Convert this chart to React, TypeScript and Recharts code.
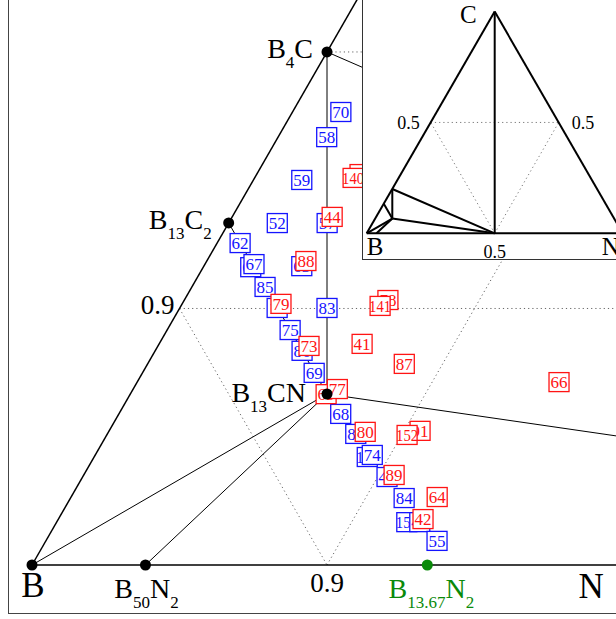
import React from 'react';
import { ScatterChart, Scatter, XAxis, YAxis, ReferenceLine } from 'recharts';

const SERIF = '"Liberation Serif", "Times New Roman", serif';
const H = Math.sqrt(3) / 2;
const BLUE = '#1414ff';
const RED = '#ff1414';
const GREEN = '#0a8a0a';

// compositions as (n, c) = fractions of N and C, B is the rest
const corners = [
  { name: 'B', n: 0, c: 0 },
  { name: 'C', n: 0, c: 1 },
  { name: 'N', n: 1, c: 0 },
  { name: 'BN', n: 0.5, c: 0 },
];

const phases = [
  { name: 'B', n: 0, c: 0 },
  { name: 'B50N2', n: 2 / 52, c: 0 },
  { name: 'B13C2', n: 0, c: 2 / 15 },
  { name: 'B4C', n: 0, c: 0.2 },
  { name: 'B13CN', n: 1 / 15, c: 1 / 15 },
];

const greenPhase = [{ name: 'B13.67N2', n: 0.134, c: 0 }];

const edges = [['B', 'C'], ['C', 'N'], ['B', 'N']];

const tieLines = [
  ['B4C', 'B13CN'],
  ['B4C', 'BN'],
  ['B13CN', 'BN'],
  ['B', 'B13CN'],
  ['B50N2', 'B13CN'],
  ['B13C2', 'B13CN'],
  ['C', 'BN'],
];

// dotted grid lines, [[n, c], [n, c]]
const mainGrid = [
  [[0, 0.1], [0.9, 0.1]],
  [[0, 0.2], [0.8, 0.2]],
  [[0, 0.1], [0.1, 0]],
  [[0.1, 0], [0.1, 0.9]],
];
const insetGrid = [
  [[0, 0.5], [0.5, 0.5]],
  [[0.5, 0], [0, 0.5]],
  [[0.5, 0], [0.5, 0.5]],
];

const mainTicks = [
  { text: '0.9', n: 0, c: 0.1, pos: 'left' },
  { text: '0.9', n: 0.1, c: 0, pos: 'below' },
  { text: 'N', n: 0.1895, c: 0, pos: 'corner' },
];
const insetTicks = [
  { text: '0.5', n: 0, c: 0.5, pos: 'left' },
  { text: '0.5', n: 0.5, c: 0.5, pos: 'right' },
  { text: '0.5', n: 0.5, c: 0, pos: 'below' },
  { text: 'B', n: 0, c: 0, pos: 'cornerB' },
  { text: 'C', n: 0, c: 1, pos: 'cornerC' },
  { text: 'N', n: 1, c: 0, pos: 'cornerN' },
];

// numbered sample boxes (drawn in this order)
const blueSamples = [
  { id: '70', n: 0.0164, c: 0.1766 },
  { id: '58', n: 0.0165, c: 0.1668 },
  { id: '59', n: 0.0164, c: 0.1501 },
  { id: '52', n: 0.0165, c: 0.1333 },
  { id: '57', n: 0.0334, c: 0.1333 },
  { id: '62', n: 0.0078, c: 0.1255 },
  { id: '61', n: 0.0161, c: 0.1161 },
  { id: '67', n: 0.0166, c: 0.1173 },
  { id: '63', n: 0.0332, c: 0.1165 },
  { id: '85', n: 0.0248, c: 0.1084 },
  { id: '18', n: 0.033, c: 0.1002 },
  { id: '83', n: 0.0499, c: 0.1002 },
  { id: '75', n: 0.0417, c: 0.0916 },
  { id: '86', n: 0.0498, c: 0.0835 },
  { id: '69', n: 0.0582, c: 0.0749 },
  { id: '68', n: 0.0752, c: 0.0589 },
  { id: '81', n: 0.0842, c: 0.0511 },
  { id: '157', n: 0.0926, c: 0.0421 },
  { id: '74', n: 0.0939, c: 0.0429 },
  { id: '47', n: 0.1032, c: 0.0343 },
  { id: '84', n: 0.1131, c: 0.0261 },
  { id: '153', n: 0.1187, c: 0.0167 },
  { id: '43', n: 0.1231, c: 0.0167 },
  { id: '55', n: 0.1326, c: 0.0094 },
];

const redSamples = [
  { id: '44', n: 0.0339, c: 0.1357 },
  { id: '88', n: 0.0336, c: 0.1185 },
  { id: '79', n: 0.0335, c: 0.1018 },
  { id: '73', n: 0.0512, c: 0.0854 },
  { id: '20', n: 0.035, c: 0.1524 },
  { id: '140', n: 0.0334, c: 0.1509 },
  { id: '78', n: 0.069, c: 0.1033 },
  { id: '141', n: 0.0675, c: 0.101 },
  { id: '41', n: 0.0688, c: 0.0862 },
  { id: '87', n: 0.087, c: 0.0784 },
  { id: '66', n: 0.143, c: 0.0713 },
  { id: '65', n: 0.0664, c: 0.0666 },
  { id: '77', n: 0.0692, c: 0.0686 },
  { id: '80', n: 0.087, c: 0.0519 },
  { id: '91', n: 0.1054, c: 0.0523 },
  { id: '152', n: 0.1018, c: 0.0507 },
  { id: '89', n: 0.1052, c: 0.0351 },
  { id: '64', n: 0.1241, c: 0.0265 },
  { id: '42', n: 0.1236, c: 0.0179 },
];

const xy = (n: number, c: number) => ({ x: n + c / 2, y: c * H });
const withXY = (arr: any[]) => arr.map((d) => ({ ...d, ...xy(d.n, d.c) }));

const lookup: Record<string, { n: number; c: number }> = {};
[...corners, ...phases].forEach((p) => (lookup[p.name] = p));

const phaseLabel: Record<string, any> = {
  B: { dx: 1, dy: 32, anchor: 'middle', size: 35 },
  B50N2: { dx: 1, dy: 33, anchor: 'middle', size: 28 },
  B13C2: { dx: -17, dy: 6, anchor: 'end', size: 28 },
  B4C: { dx: -14, dy: 6, anchor: 'end', size: 28 },
  B13CN: { dx: -21, dy: 8, anchor: 'end', size: 28 },
  'B13.67N2': { dx: 4, dy: 33, anchor: 'middle', size: 28 },
};

const tickStyle: Record<string, any> = {
  left: { dx: -5, dy: 6, anchor: 'end', size: 27 },
  below: { dx: 0, dy: 27, anchor: 'middle', size: 27 },
  corner: { dx: 0, dy: 33, anchor: 'middle', size: 35 },
};
const insetTickStyle: Record<string, any> = {
  left: { dx: -11, dy: 7, anchor: 'end', size: 18 },
  right: { dx: 13, dy: 7, anchor: 'start', size: 18 },
  below: { dx: 0, dy: 25, anchor: 'middle', size: 18 },
  cornerB: { dx: 0, dy: 22, anchor: 'start', size: 25 },
  cornerC: { dx: -18, dy: 11, anchor: 'end', size: 25 },
  cornerN: { dx: -12, dy: 22, anchor: 'middle', size: 25 },
};

function Formula({ x, y, formula, size, anchor, fill }: any) {
  const parts = formula.split(/(\d+(?:\.\d+)?)/).filter(Boolean);
  const sub = Math.round(size * 0.6);
  let shift = 0;
  return (
    <text x={x} y={y} textAnchor={anchor} fontFamily={SERIF} fontSize={size} fill={fill}>
      {parts.map((p: string, i: number) => {
        const isSub = /^\d/.test(p);
        const dy = (isSub ? 10 : 0) - shift;
        shift = isSub ? 10 : 0;
        return (
          <tspan key={i} dy={dy} fontSize={isSub ? sub : size}>
            {p}
          </tspan>
        );
      })}
    </text>
  );
}

const phaseShape = (fill: string) => (props: any) => {
  const { cx, cy, payload } = props;
  const l = phaseLabel[payload.name];
  return (
    <g>
      <circle cx={cx} cy={cy} r={5.5} fill={fill} />
      <Formula x={cx + l.dx} y={cy + l.dy} formula={payload.name} size={l.size} anchor={l.anchor} fill={fill} />
    </g>
  );
};

const tickShape = (styles: Record<string, any>) => (props: any) => {
  const { cx, cy, payload } = props;
  const s = styles[payload.pos];
  return (
    <text x={cx + s.dx} y={cy + s.dy} textAnchor={s.anchor} fontFamily={SERIF} fontSize={s.size} fill="#000">
      {payload.text}
    </text>
  );
};

const boxShape = (color: string) => (props: any) => {
  const { cx, cy, payload } = props;
  const three = payload.id.length > 2;
  return (
    <g>
      <rect x={cx - 10} y={cy - 9.5} width={20} height={19} fill="#fff" stroke={color} strokeWidth={1.3} />
      <text
        x={cx}
        y={cy + 6}
        textAnchor="middle"
        fontFamily={SERIF}
        fontSize={17}
        fill={color}
        textLength={three ? 22 : undefined}
        lengthAdjust={three ? 'spacingAndGlyphs' : undefined}
      >
        {payload.id}
      </text>
    </g>
  );
};

const seg = (a: number[], b: number[], key: string, stroke: string, width: number, dash?: string) => (
  <ReferenceLine
    key={key}
    segment={[xy(a[0], a[1]), xy(b[0], b[1])]}
    stroke={stroke}
    strokeWidth={width}
    strokeDasharray={dash}
    ifOverflow="visible"
  />
);

const named = (pairs: string[][], prefix: string, width: number) =>
  pairs.map(([a, b], i) =>
    seg([lookup[a].n, lookup[a].c], [lookup[b].n, lookup[b].c], prefix + i, '#000', width)
  );

function MainChart() {
  return (
    <ScatterChart width={616} height={619} margin={{ top: 0, right: 0, bottom: 0, left: 0 }}>
      <XAxis type="number" dataKey="x" domain={[-32 / 2950, 584 / 2950]} allowDataOverflow hide />
      <YAxis type="number" dataKey="y" domain={[-54 / 2962, 565 / 2962]} allowDataOverflow hide />
      {mainGrid.map((g, i) => seg(g[0], g[1], 'g' + i, '#666', 1, '1.2 3'))}
      {named(edges, 'e', 1.5)}
      {named(tieLines, 't', 1)}
      <Scatter data={withXY(blueSamples)} shape={boxShape(BLUE)} isAnimationActive={false} />
      <Scatter data={withXY(redSamples)} shape={boxShape(RED)} isAnimationActive={false} />
      <Scatter data={withXY(phases)} shape={phaseShape('#000')} isAnimationActive={false} />
      <Scatter data={withXY(greenPhase)} shape={phaseShape(GREEN)} isAnimationActive={false} />
      <Scatter data={withXY(mainTicks)} shape={tickShape(tickStyle)} isAnimationActive={false} />
    </ScatterChart>
  );
}

function InsetChart() {
  return (
    <ScatterChart width={253} height={259} margin={{ top: 0, right: 0, bottom: 0, left: 0 }}>
      <XAxis type="number" dataKey="x" domain={[-3.7 / 256, 249.3 / 256]} allowDataOverflow hide />
      <YAxis type="number" dataKey="y" domain={[-25.7 / 256, 233.3 / 256]} allowDataOverflow hide />
      {insetGrid.map((g, i) => seg(g[0], g[1], 'ig' + i, '#777', 1, '1.2 3'))}
      {named(edges, 'ie', 2)}
      {named(tieLines, 'it', 2)}
      <Scatter data={withXY(insetTicks)} shape={tickShape(insetTickStyle)} isAnimationActive={false} />
    </ScatterChart>
  );
}

export default function App() {
  return (
    <div style={{ position: 'absolute', left: 0, top: 0, width: 616, height: 619, overflow: 'hidden', background: '#fff' }}>
      <div style={{ position: 'absolute', left: 0, top: 0 }}>
        <MainChart />
      </div>
      <div
        style={{
          position: 'absolute',
          left: 7.5,
          top: -10,
          width: 700,
          height: 624,
          border: '1.5px solid #444',
          boxSizing: 'border-box',
          pointerEvents: 'none',
        }}
      />
      <div
        style={{
          position: 'absolute',
          left: 362,
          top: 0,
          width: 253,
          height: 259,
          background: '#fff',
          borderLeft: '1px solid #333',
          borderBottom: '1px solid #333',
        }}
      >
        <InsetChart />
      </div>
    </div>
  );
}
